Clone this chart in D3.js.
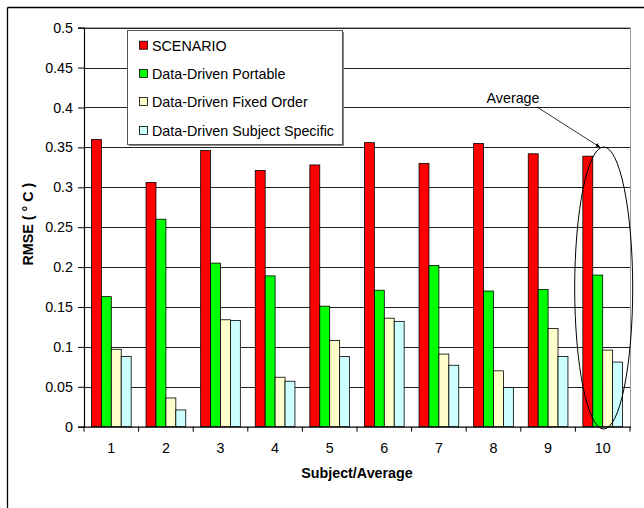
<!DOCTYPE html>
<html>
<head>
<meta charset="utf-8">
<script src="https://cdn.jsdelivr.net/npm/d3@7/dist/d3.min.js"></script>
<style>
  html, body { margin: 0; padding: 0; background: #fff; }
  svg { display: block; }
  text { font-family: "Liberation Sans", Arial, sans-serif; }
</style>
</head>
<body>
<svg id="chart" width="644" height="508"></svg>
<script>
const categories = ["1","2","3","4","5","6","7","8","9","10"];
const seriesNames = ["SCENARIO","Data-Driven Portable","Data-Driven Fixed Order","Data-Driven Subject Specific"];
const seriesColors = ["#ff0000","#00ff00","#ffffcc","#ccffff"];
const scenario     = [0.360,0.306,0.346,0.321,0.328,0.356,0.330,0.355,0.342,0.339];
const portable     = [0.163,0.260,0.205,0.189,0.151,0.171,0.202,0.170,0.172,0.190];
const fixedOrder   = [0.097,0.036,0.134,0.062,0.108,0.136,0.091,0.070,0.123,0.096];
const subjSpecific = [0.088,0.021,0.133,0.057,0.088,0.132,0.077,0.049,0.088,0.081];
const yTicks = [0,0.05,0.1,0.15,0.2,0.25,0.3,0.35,0.4,0.45,0.5];
const yTickLabels = ["0","0.05","0.1","0.15","0.2","0.25","0.3","0.35","0.4","0.45","0.5"];
const annotationText = "Average";
const annotatedCategory = "10";

const seriesValues = [scenario, portable, fixedOrder, subjSpecific];
const FS = 14.3;

const svg = d3.select("#chart");
const plot = {left: 84, right: 630, top: 27.7, bottom: 426.7};

// outer frame (partially cut)
svg.append("line").attr("x1",7.5).attr("x2",644).attr("y1",7.5).attr("y2",7.5).attr("stroke","#000").attr("stroke-width",1.3);
svg.append("line").attr("x1",7.5).attr("x2",7.5).attr("y1",7.5).attr("y2",508).attr("stroke","#000").attr("stroke-width",1.3);

const x = d3.scaleBand().domain(categories).range([plot.left, plot.right]).paddingInner(0).paddingOuter(0);
const y = d3.scaleLinear().domain([0,0.5]).range([plot.bottom, plot.top]);
const bw = x.bandwidth() / 5.5;
const gap = x.bandwidth() - 4*bw;

// plot area border (gray)
svg.append("line").attr("x1",plot.right+0.5).attr("x2",plot.right+0.5).attr("y1",plot.top).attr("y2",plot.bottom)
  .attr("stroke","#999").attr("stroke-width",1);
svg.append("line").attr("x1",plot.left).attr("x2",plot.right).attr("y1",plot.top).attr("y2",plot.top)
  .attr("stroke","#999").attr("stroke-width",1);

// gridlines
svg.append("g").selectAll("line").data(yTicks.filter(d=>d>0)).join("line")
  .attr("x1",plot.left).attr("x2",plot.right)
  .attr("y1",d=>Math.round(y(d))+0.5).attr("y2",d=>Math.round(y(d))+0.5)
  .attr("stroke","#222").attr("stroke-width",1);

// bars
const g = svg.append("g");
seriesValues.forEach((vals, si) => {
  g.selectAll(null).data(vals).join("rect")
    .attr("x",(d,i)=>x(categories[i]) + gap/2 + si*bw)
    .attr("y",d=>y(d))
    .attr("width",bw)
    .attr("height",d=>y(0)-y(d))
    .attr("fill",seriesColors[si])
    .attr("stroke","#000").attr("stroke-width",0.8);
});

// y axis
const yAxis = d3.axisLeft(y).tickValues(yTicks).tickFormat((d,i)=>yTickLabels[i]).tickSize(6).tickPadding(5);
const ya = svg.append("g").attr("transform",`translate(${plot.left},0)`).call(yAxis);
ya.select(".domain").attr("stroke","#000").attr("stroke-width",1.2);
ya.selectAll(".tick line").attr("stroke","#000");
ya.selectAll("text").attr("font-size",FS).attr("fill","#000").style("font-family","'Liberation Sans', Arial, sans-serif");

// x axis
const xb = svg.append("g").attr("transform",`translate(0,${plot.bottom})`);
xb.append("line").attr("x1",plot.left).attr("x2",plot.right+1).attr("y1",0.5).attr("y2",0.5).attr("stroke","#000").attr("stroke-width",1.2);
const bounds = categories.map(c=>x(c)).concat([plot.right]);
xb.selectAll(".tk").data(bounds).join("line").attr("class","tk")
  .attr("x1",d=>d).attr("x2",d=>d).attr("y1",0).attr("y2",5).attr("stroke","#000");
xb.selectAll(".lbl").data(categories).join("text").attr("class","lbl")
  .attr("x",d=>x(d)+x.bandwidth()/2).attr("y",26.5).attr("text-anchor","middle")
  .attr("font-size",FS).text(d=>d);

// axis titles
svg.append("text").attr("x",(plot.left+plot.right)/2).attr("y",478).attr("text-anchor","middle")
  .attr("font-size",FS).attr("font-weight","bold").text("Subject/Average");
svg.append("text").attr("transform",`translate(33,${(plot.top+plot.bottom)/2 - 3}) rotate(-90)`)
  .attr("text-anchor","middle").attr("font-size",FS).attr("font-weight","bold").text("RMSE ( ° C )");

// legend
const lg = svg.append("g");
lg.append("rect").attr("x",129).attr("y",32).attr("width",215).attr("height",114).attr("fill","#888");
lg.append("rect").attr("x",127.5).attr("y",30.5).attr("width",215).attr("height",114)
  .attr("fill","#fff").attr("stroke","#555").attr("stroke-width",1);
const itemY = [45.7, 74, 102, 131];
seriesNames.forEach((n,i)=>{
  lg.append("rect").attr("x",139.5).attr("y",itemY[i]-4.5).attr("width",8).attr("height",8)
    .attr("fill",seriesColors[i]).attr("stroke","#000").attr("stroke-width",0.8);
  lg.append("text").attr("x",152).attr("y",itemY[i]+5).attr("font-size",FS).text(n);
});

// annotation
const cx = x(annotatedCategory) + x.bandwidth()/2 + 1;
svg.append("ellipse").attr("cx",cx).attr("cy",(147+429)/2).attr("rx",29).attr("ry",(429-147)/2)
  .attr("fill","none").attr("stroke","#000").attr("stroke-width",1);
svg.append("text").attr("x",513).attr("y",103).attr("text-anchor","middle").attr("font-size",FS).text(annotationText);
svg.append("defs").append("marker").attr("id","arr").attr("viewBox","0 0 10 10").attr("refX",9).attr("refY",5)
  .attr("markerWidth",6).attr("markerHeight",6).attr("orient","auto")
  .append("path").attr("d","M0,1 L10,5 L0,9 z").attr("fill","#000");
svg.append("line").attr("x1",537).attr("y1",107).attr("x2",cx-4).attr("y2",147)
  .attr("stroke","#000").attr("stroke-width",0.8).attr("marker-end","url(#arr)");
</script>
</body>
</html>
